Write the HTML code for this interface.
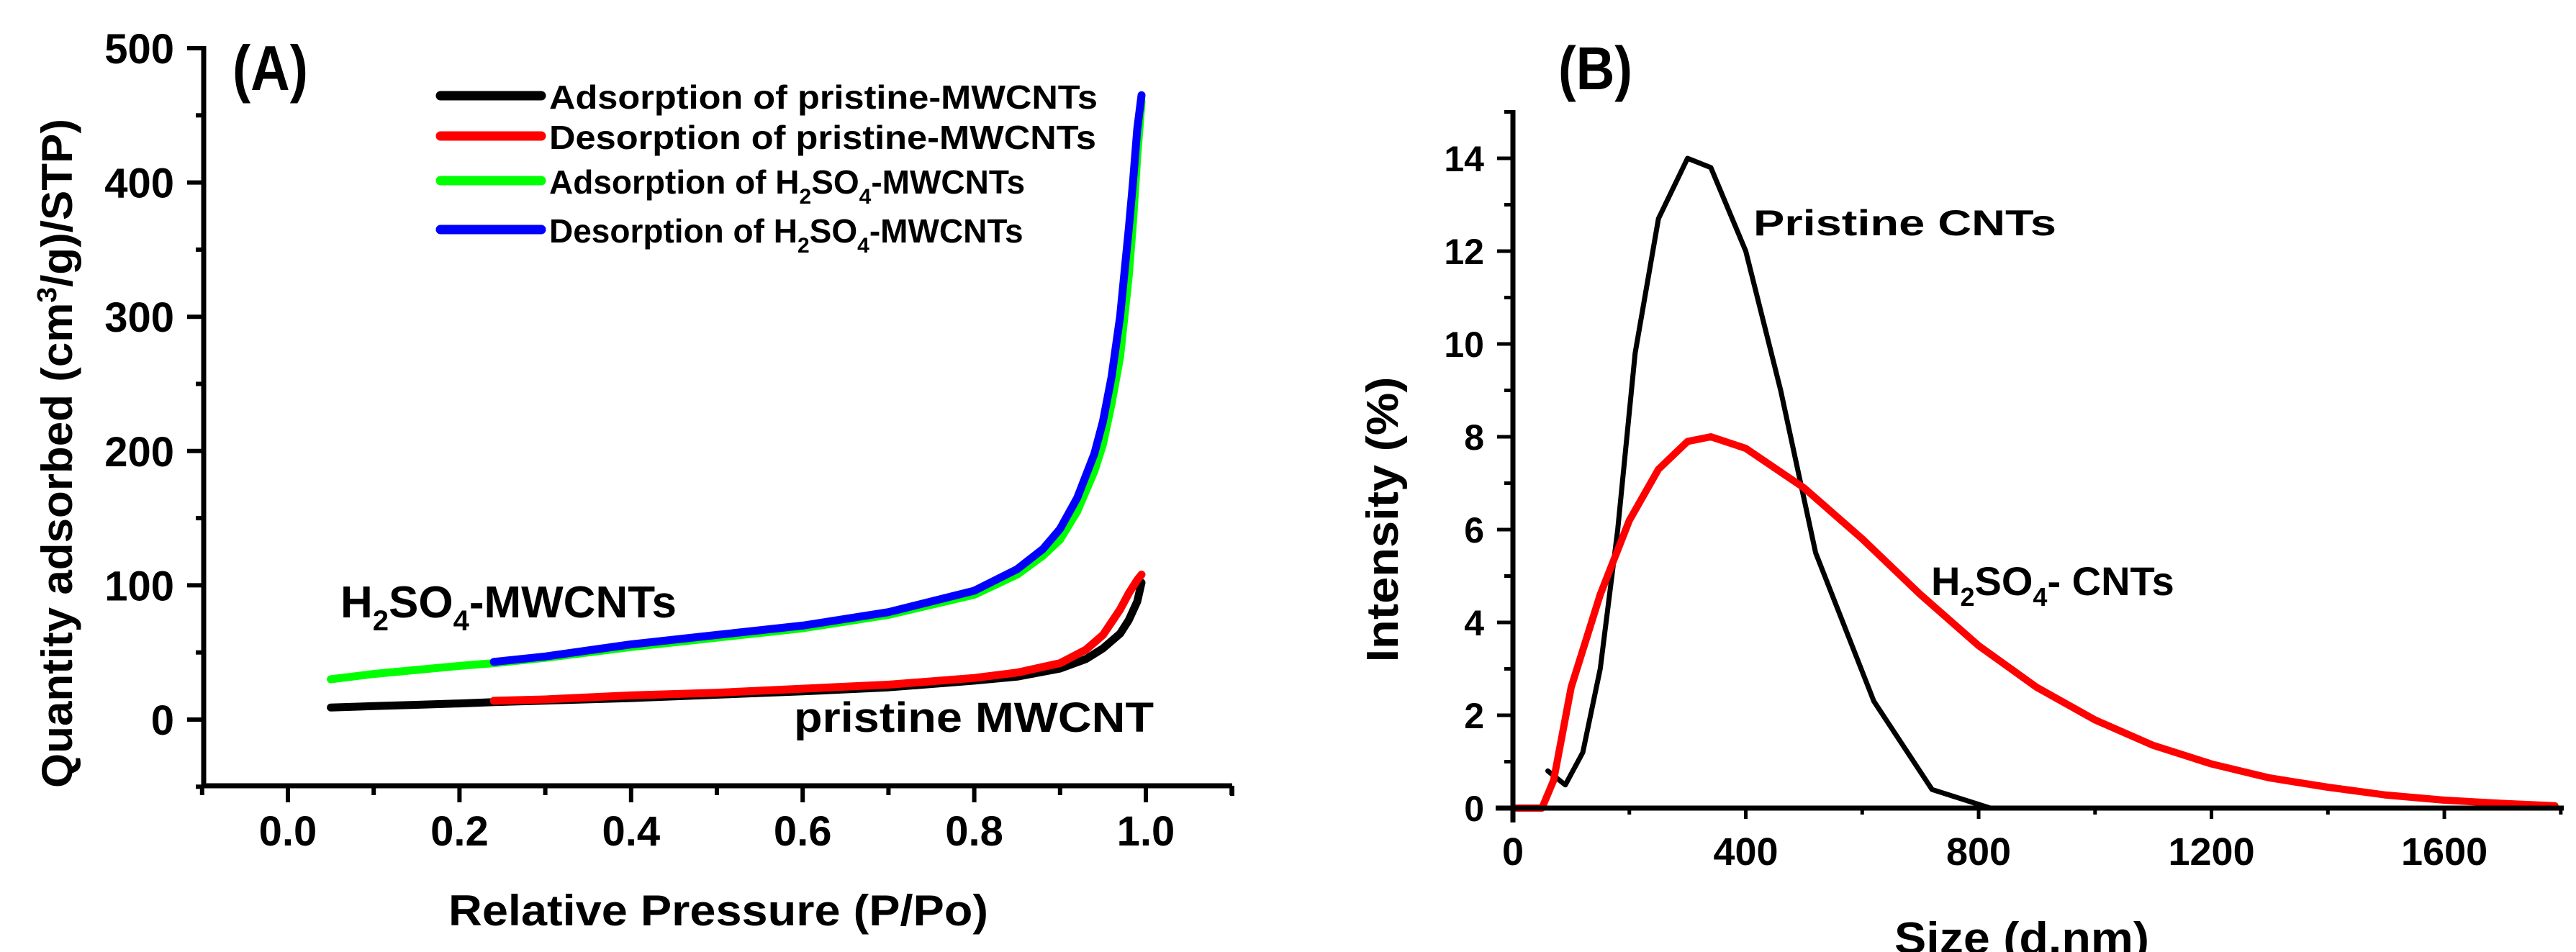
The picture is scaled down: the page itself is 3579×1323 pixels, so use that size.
<!DOCTYPE html>
<html><head><meta charset="utf-8"><style>
html,body{margin:0;padding:0;background:#fff;}
svg{display:block;}
text{font-family:"Liberation Sans",Arial,sans-serif;font-weight:bold;fill:#000;}
</style></head><body>
<svg id="fig" width="3579" height="1323" viewBox="0 0 3579 1323" xmlns="http://www.w3.org/2000/svg">
<g id="pa"></g>
<g id="pb"></g>
</svg>
<script>
// Panel A data
const aPrisAdsX = [0.05,0.1,0.15,0.2,0.24,0.4,0.6,0.7,0.8,0.85,0.9,0.93,0.95,0.97,0.98,0.99,0.995];
const aPrisAdsY = [9,10,11,12,13,16,21,24,29,32,38,45,53,64,74,88,102];
const aPrisDesX = [0.24,0.3,0.4,0.5,0.6,0.7,0.8,0.85,0.9,0.93,0.95,0.97,0.98,0.99,0.995];
const aPrisDesY = [14,15,18,20,23,26,31,35,42,52,63,82,94,104,108];
const aAcidAdsX = [0.05,0.1,0.15,0.2,0.24,0.3,0.4,0.5,0.6,0.7,0.8,0.85,0.88,0.9,0.92,0.94,0.95,0.96,0.97,0.98,0.985,0.99,0.995];
const aAcidAdsY = [30,34,37,40,42,46,54,61,68,78,93,108,122,134,155,185,205,235,270,330,370,420,460];
const aAcidDesX = [0.24,0.3,0.4,0.5,0.6,0.7,0.8,0.85,0.88,0.9,0.92,0.94,0.95,0.96,0.97,0.98,0.985,0.99,0.995];
const aAcidDesY = [43,47,56,63,70,80,96,112,127,142,165,198,222,255,300,365,400,440,465];
const aXTicks = ["0.0","0.2","0.4","0.6","0.8","1.0"];
const aYTicks = ["0","100","200","300","400","500"];
// Panel B data
const bPrisX = [60,90,120,150,180,210,250,300,340,400,460,520,620,720,820];
const bPrisY = [0.8,0.5,1.2,3,6,9.8,12.7,14,13.8,12,9,5.5,2.3,0.4,0];
const bAcidX = [0,50,70,100,150,200,250,300,340,400,500,600,700,800,900,1000,1100,1200,1300,1400,1500,1600,1700,1790];
const bAcidY = [0,0,0.6,2.6,4.6,6.2,7.3,7.9,8.0,7.75,6.9,5.8,4.6,3.5,2.6,1.9,1.35,0.95,0.65,0.45,0.28,0.17,0.1,0.05];
const bXTicks = ["0","400","800","1200","1600"];
const bYTicks = ["0","2","4","6","8","10","12","14"];

const NS="http://www.w3.org/2000/svg";
function mk(parent,tag,attrs,txt){const e=document.createElementNS(NS,tag);for(const k in attrs)e.setAttribute(k,attrs[k]);if(txt!==undefined)e.textContent=txt;parent.appendChild(e);return e;}

// ---------- Panel A ----------
const pa=document.getElementById('pa');
const ax=v=>400+(v-0)*1192;
const ay=v=>1000-v*1.866;
function lineA(xs,ys,color,w,name){
  const d=xs.map((x,i)=>(i?'L':'M')+ax(x).toFixed(1)+' '+ay(ys[i]).toFixed(1)).join(' ');
  const p=mk(pa,'path',{d:d,fill:'none',stroke:color,'stroke-width':w,'stroke-linejoin':'round','stroke-linecap':'round'});
  
  
}
lineA(aPrisAdsX,aPrisAdsY,'#000',11,'pristine-adsorption-line');
lineA(aPrisDesX,aPrisDesY,'#f00',11,'pristine-desorption-line');
lineA(aAcidAdsX,aAcidAdsY,'#0f0',11,'acid-adsorption-line');
lineA(aAcidDesX,aAcidDesY,'#00f',11,'acid-desorption-line');
let e=mk(pa,'line',{x1:283,y1:1092,x2:1712,y2:1092,stroke:'#000','stroke-width':7});

e=mk(pa,'line',{x1:283,y1:64,x2:283,y2:1095,stroke:'#000','stroke-width':7});

mk(pa,'line',{x1:262,y1:67,x2:283,y2:67,stroke:'#000','stroke-width':6});
mk(pa,'line',{x1:1712,y1:1092,x2:1712,y2:1106,stroke:'#000','stroke-width':6});
for(let i=-1;i<=11;i++){const v=i/10;const x=ax(v);mk(pa,'line',{x1:x,y1:1092,x2:x,y2:i%2==0?1115:1105,stroke:'#000','stroke-width':6});}
for(let v=-50;v<=500;v+=50){const y=ay(v);mk(pa,'line',{x1:v%100==0?260:272,y1:y,x2:283,y2:y,stroke:'#000','stroke-width':6});}
aXTicks.forEach((t,i)=>{const el=mk(pa,'text',{x:ax(i*0.2),y:1175,'font-size':58,'text-anchor':'middle'},t);
});
aYTicks.forEach((t,i)=>{const el=mk(pa,'text',{x:242,y:ay(i*100)+21,'font-size':58,'text-anchor':'end'},t);
});
e=mk(pa,'text',{x:998,y:1286,'font-size':60,'text-anchor':'middle',textLength:750,lengthAdjust:'spacingAndGlyphs'},'Relative Pressure (P/Po)');

e=mk(pa,'text',{x:0,y:0,'font-size':60,'text-anchor':'middle',transform:'translate(100,630) rotate(-90)',textLength:930,lengthAdjust:'spacingAndGlyphs'});
e.innerHTML='Quantity adsorbed (cm<tspan font-size="38" dy="-22">3</tspan><tspan dy="22">/g)/STP)</tspan>';

e=mk(pa,'text',{x:323,y:125,'font-size':88,textLength:105,lengthAdjust:'spacingAndGlyphs'},'(A)');

const legRows=[[133,'#000','Adsorption of pristine-MWCNTs',762,null],[189,'#f00','Desorption of pristine-MWCNTs',760,null],[251,'#0f0','Adsorption of ',0,1],[319,'#00f','Desorption of ',0,1]];
legRows.forEach((r,i)=>{
  const g=mk(pa,'g',{});
  
  
  mk(g,'line',{x1:612,y1:r[0],x2:752,y2:r[0],stroke:r[1],'stroke-width':13,'stroke-linecap':'round'});
  if(!r[4]){mk(g,'text',{x:763,y:r[0]+18,'font-size':46,textLength:r[3],lengthAdjust:'spacingAndGlyphs'},r[2]);}
  else{const t=mk(g,'text',{x:763,y:r[0]+18,'font-size':46});
    t.innerHTML=r[2]+'H<tspan font-size="30" dy="14">2</tspan><tspan dy="-14">SO</tspan><tspan font-size="30" dy="14">4</tspan><tspan dy="-14">-MWCNTs</tspan>';}
});
e=mk(pa,'text',{x:473,y:858,'font-size':62});
e.innerHTML='H<tspan font-size="40" dy="18">2</tspan><tspan dy="-18">SO</tspan><tspan font-size="40" dy="18">4</tspan><tspan dy="-18">-MWCNTs</tspan>';

e=mk(pa,'text',{x:1103,y:1017,'font-size':58,textLength:500,lengthAdjust:'spacingAndGlyphs'},'pristine MWCNT');


// ---------- Panel B ----------
const pb=document.getElementById('pb');
const bx=v=>2102+v*0.8088;
const by=v=>1123-v*64.5;
function lineB(xs,ys,color,w,name){
  const d=xs.map((x,i)=>(i?'L':'M')+bx(x).toFixed(1)+' '+by(ys[i]).toFixed(1)).join(' ');
  const p=mk(pb,'path',{d:d,fill:'none',stroke:color,'stroke-width':w,'stroke-linejoin':'round','stroke-linecap':'round'});
  
  
}
lineB(bPrisX,bPrisY,'#000',7,'pristine-cnt-line');
lineB(bAcidX,bAcidY,'#f00',10,'acid-cnt-line');
e=mk(pb,'line',{x1:2078,y1:1123,x2:3562,y2:1123,stroke:'#000','stroke-width':7});

e=mk(pb,'line',{x1:2102,y1:153,x2:2102,y2:1143,stroke:'#000','stroke-width':7});

for(let v=200;v<=1800;v+=200){const x=bx(v);mk(pb,'line',{x1:x,y1:1123,x2:x,y2:v%400==0?1138:1132,stroke:'#000','stroke-width':5});}
for(let v=1;v<=15;v++){const y=by(v);mk(pb,'line',{x1:v%2==0?2080:2090,y1:y,x2:2102,y2:y,stroke:'#000','stroke-width':5});}
bXTicks.forEach((t,i)=>{const el=mk(pb,'text',{x:bx(i*400),y:1202,'font-size':54,'text-anchor':'middle'},t);
});
bYTicks.forEach((t,i)=>{const el=mk(pb,'text',{x:2062,y:by(i*2)+18,'font-size':50,'text-anchor':'end'},t);
});
e=mk(pb,'text',{x:2632,y:1325,'font-size':62,textLength:354,lengthAdjust:'spacingAndGlyphs'},'Size (d.nm)');

e=mk(pb,'text',{x:0,y:0,'font-size':62,'text-anchor':'middle',transform:'translate(1942,722) rotate(-90)',textLength:397,lengthAdjust:'spacingAndGlyphs'},'Intensity (%)');

e=mk(pb,'text',{x:2165,y:124,'font-size':84,textLength:103,lengthAdjust:'spacingAndGlyphs'},'(B)');

e=mk(pb,'text',{x:2436,y:327,'font-size':50,textLength:421,lengthAdjust:'spacingAndGlyphs'},'Pristine CNTs');

e=mk(pb,'text',{x:2683,y:827,'font-size':56});
e.innerHTML='H<tspan font-size="36" dy="15">2</tspan><tspan dy="-15">SO</tspan><tspan font-size="36" dy="15">4</tspan><tspan dy="-15">- CNTs</tspan>';

</script>
</body></html>
